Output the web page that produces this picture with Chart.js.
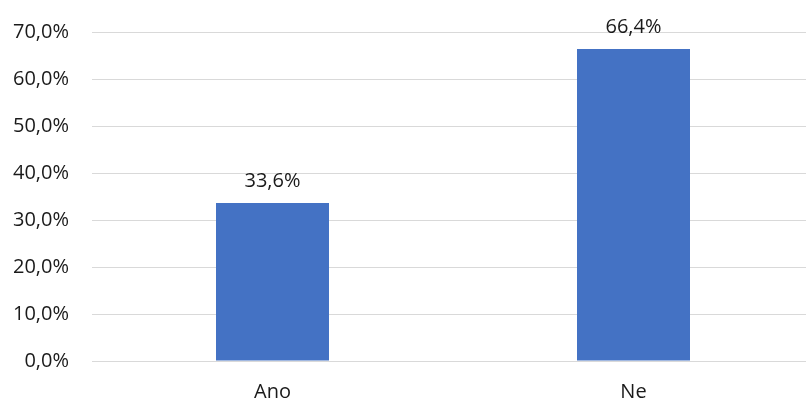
<!DOCTYPE html>
<html>
<head>
<meta charset="utf-8">
<script src="https://cdn.jsdelivr.net/npm/chart.js@4"></script>
<style>
  html, body { margin: 0; padding: 0; background: #fff; overflow: hidden; }
  #wrap { width: 814px; height: 403px; }
</style>
</head>
<body>
<div id="wrap"><canvas id="myChart"></canvas></div>
<script>
// chart data
const categories = ['Ano', 'Ne'];
const values = [33.6, 66.4];
const yTicks = [0, 10, 20, 30, 40, 50, 60, 70];

function pct(v) {
    return v.toFixed(1).replace('.', ',') + '%';
}

// draw the value above each bar
const barLabels = {
    id: 'barLabels',
    afterDatasetsDraw(chart) {
        const ctx = chart.ctx;
        const meta = chart.getDatasetMeta(0);
        ctx.save();
        ctx.font = '20px "Open Sans", sans-serif';
        ctx.fillStyle = '#1a1a1a';
        ctx.textAlign = 'center';
        ctx.textBaseline = 'alphabetic';
        meta.data.forEach((bar, i) => {
            ctx.fillText(pct(values[i]), bar.x, bar.y - 16);
        });
        ctx.restore();
    }
};

const ctx = document.getElementById('myChart').getContext('2d');
const myChart = new Chart(ctx, {
    type: 'bar',
    data: {
        labels: categories,
        datasets: [{
            data: values,
            backgroundColor: '#4472C4',
            borderWidth: 0,
            categoryPercentage: 1,
            barPercentage: 0.313
        }]
    },
    options: {
        responsive: true,
        maintainAspectRatio: false,
        animation: false,
        layout: { padding: { top: 32, right: 0, bottom: 0, left: 0 } },
        plugins: {
            legend: { display: false },
            tooltip: { enabled: false }
        },
        scales: {
            x: {
                grid: { display: false, drawTicks: false },
                border: { display: true, color: '#d9d9d9', width: 1 },
                afterFit(axis) { axis.height = 42; },
                ticks: {
                    color: '#1a1a1a',
                    font: { family: '"Open Sans", sans-serif', size: 20 },
                    padding: 19
                }
            },
            y: {
                min: 0,
                max: 70,
                afterBuildTicks(axis) {
                    axis.ticks = yTicks.map(v => ({ value: v }));
                },
                afterFit(axis) {
                    axis.width = 92;
                    axis.paddingTop = 0;
                    axis.paddingBottom = 0;
                },
                grid: { color: '#d9d9d9', drawTicks: false },
                border: { display: false },
                ticks: {
                    color: '#1a1a1a',
                    font: { family: '"Open Sans", sans-serif', size: 20 },
                    padding: 23,
                    callback: v => pct(v)
                }
            }
        }
    },
    plugins: [barLabels]
});
</script>
</body>
</html>
